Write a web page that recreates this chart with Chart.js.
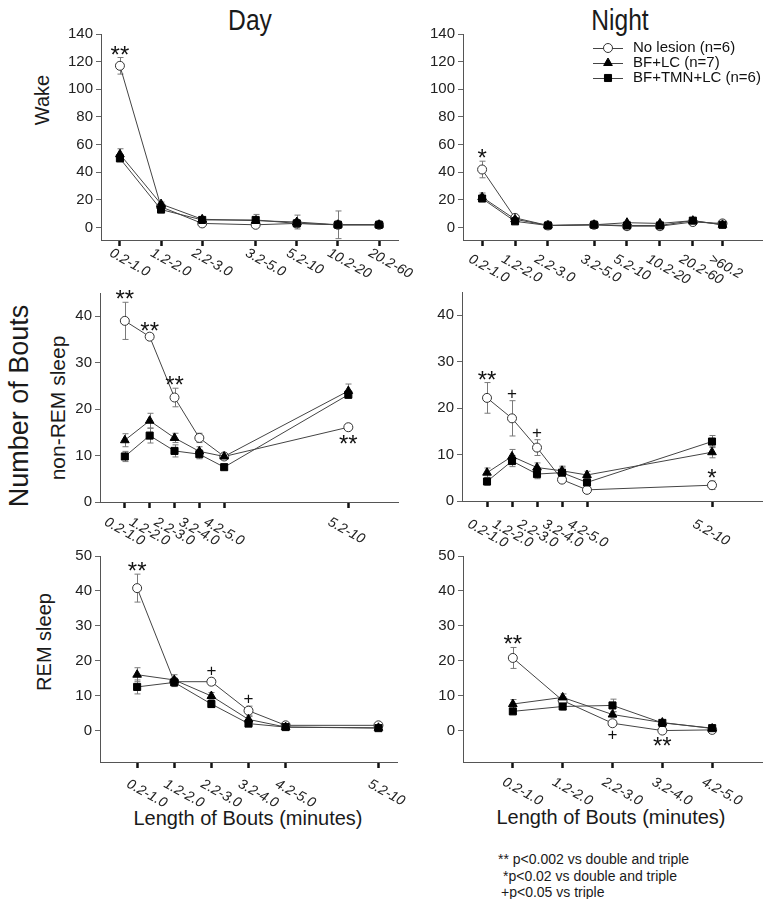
<!DOCTYPE html>
<html>
<head>
<meta charset="utf-8">
<script src="https://cdn.jsdelivr.net/npm/chart.js@4.4.0/dist/chart.umd.min.js"></script>
<style>
  body { margin: 0; background: #fff; width: 763px; height: 899px; position: relative; overflow: hidden;
         font-family: Arial, "Liberation Sans", sans-serif; color: #1a1a1a; }
  .panel { position: absolute; }
  .txt { position: absolute; white-space: nowrap; line-height: 1; }
  .vert { transform: translate(-50%, -50%) rotate(-90deg); }
  .title { transform: translateX(-50%) scaleX(0.82); font-size: 30px; }
  .xtitle { transform: translate(-50%, -50%); font-size: 20px; }
  .note { font-size: 14px; }
</style>
</head>
<body>

<div class="txt title" style="left:250px; top:5px;">Day</div>
<div class="txt title" style="left:620px; top:5px;">Night</div>

<div class="txt vert" style="left:42px; top:100px; font-size:20px;">Wake</div>
<div class="txt vert" style="left:19px; top:406px; font-size:27px;">Number of Bouts</div>
<div class="txt vert" style="left:57px; top:408px; font-size:21px;">non-REM sleep</div>
<div class="txt vert" style="left:44px; top:642px; font-size:20px;">REM sleep</div>

<div class="txt xtitle" style="left:248px; top:818px;">Length of Bouts (minutes)</div>
<div class="txt xtitle" style="left:611px; top:817px;">Length of Bouts (minutes)</div>

<div class="txt note" style="left:498px; top:852px;">** p&lt;0.002 vs double and triple</div>
<div class="txt note" style="left:503px; top:869px;">*p&lt;0.02 vs double and triple</div>
<div class="txt note" style="left:501px; top:885px;">+p&lt;0.05 vs triple</div>

<script>
// group names
const seriesNames = ['No lesion (n=6)', 'BF+LC (n=7)', 'BF+TMN+LC (n=6)'];

// ---- Wake, day ----
const wakeDayLabels = ['0.2-1.0', '1.2-2.0', '2.2-3.0', '3.2-5.0', '5.2-10', '10.2-20', '20.2-60'];
const wakeDayPos = [1, 2, 3, 4.3, 5.3, 6.3, 7.3];
const wakeDayNoLesion = [117, 15, 3, 2, 3, 2, 2];
const wakeDayNoLesionErr = [6, 1.5, 0.8, 0.8, 1, 1, 0.5];
const wakeDayBfLc = [53, 17, 6, 5, 4, 2, 2];
const wakeDayBfLcErr = [4, 1.5, 1, 2, 5, 10, 1];
const wakeDayTriple = [50, 13, 5.5, 5.5, 3, 2, 2];
const wakeDayTripleErr = [2, 1.5, 2, 4, 2, 2, 1];
const wakeDayMarks = [[0, 0, '**', 'up']];

// ---- Wake, night ----
const wakeNightLabels = ['0.2-1.0', '1.2-2.0', '2.2-3.0', '3.2-5.0', '5.2-10', '10.2-20', '20.2-60', '>60.2'];
const wakeNightPos = [1, 2, 3, 4.4, 5.4, 6.4, 7.4, 8.3];
const wakeNightNoLesion = [42, 7, 1.5, 2, 1, 1, 4, 3];
const wakeNightNoLesionErr = [6, 1, 0.5, 0.5, 0.5, 0.5, 1, 1];
const wakeNightBfLc = [22, 6, 1.5, 2, 3.5, 3, 5, 2];
const wakeNightBfLcErr = [3, 1, 0.5, 0.5, 1, 1, 1, 0.8];
const wakeNightTriple = [21, 4.5, 1.5, 2, 1.5, 1.5, 5, 2];
const wakeNightTripleErr = [2, 1, 0.5, 0.5, 0.5, 0.5, 1, 0.8];
const wakeNightMarks = [[0, 0, '*', 'up']];

// ---- non-REM, day ----
const nremLabels = ['0.2-1.0', '1.2-2.0', '2.2-3.0', '3.2-4.0', '4.2-5.0', '5.2-10'];
const nremPos = [1, 2, 3, 4, 5, 10];
const nremDayNoLesion = [39, 35.6, 22.5, 13.8, 9.8, 16.1];
const nremDayNoLesionErr = [4, 0.6, 2, 1, 0.5, 0.7];
const nremDayBfLc = [13.3, 17.5, 13.8, 10.9, 9.8, 23.9];
const nremDayBfLcErr = [1.4, 1.6, 1, 1, 0.6, 1.5];
const nremDayTriple = [9.8, 14.3, 11, 10.3, 7.5, 23.1];
const nremDayTripleErr = [1.1, 1.6, 1.3, 1, 0.5, 0.8];
const nremDayMarks = [[0, 0, '**', 'up'], [0, 1, '**', 'up'], [0, 2, '**', 'up'], [0, 5, '**', 'down']];

// ---- non-REM, night ----
const nremNightNoLesion = [22.2, 17.8, 11.5, 4.6, 2.4, 3.4];
const nremNightNoLesionErr = [3.3, 3.8, 1.7, 0.6, 0.3, 0.9];
const nremNightBfLc = [6.1, 9.6, 7.2, 6.5, 5.6, 10.5];
const nremNightBfLcErr = [1, 1.5, 1, 1, 0.8, 1.2];
const nremNightTriple = [4.2, 8.6, 5.8, 6.1, 4, 12.8];
const nremNightTripleErr = [0.8, 1.2, 1, 1.2, 1, 1.3];
const nremNightMarks = [[0, 0, '**', 'up'], [0, 1, '+', 'up'], [0, 2, '+', 'up'], [0, 5, '*', 'up']];

// ---- REM, day ----
const remDayLabels = ['0.2-1.0', '1.2-2.0', '2.2-3.0', '3.2-4.0', '4.2-5.0', '5.2-10'];
const remDayPos = [1, 2, 3, 4, 5, 7.5];
const remDayNoLesion = [40.8, 14, 14, 5.7, 1.5, 1.5];
const remDayNoLesionErr = [4, 1, 1, 1.3, 0.5, 0.4];
const remDayBfLc = [16, 14.5, 9.9, 3.2, 1, 0.8];
const remDayBfLcErr = [2, 1.5, 1, 0.8, 0.3, 0.3];
const remDayTriple = [12.5, 13.8, 7.6, 2, 1, 0.7];
const remDayTripleErr = [2, 1.2, 1, 0.5, 0.3, 0.3];
const remDayMarks = [[0, 0, '**', 'up'], [0, 2, '+', 'up'], [0, 3, '+', 'up']];

// ---- REM, night ----
const remNightLabels = ['0.2-1.0', '1.2-2.0', '2.2-3.0', '3.2-4.0', '4.2-5.0'];
const remNightPos = [1, 2, 3, 4, 5];
const remNightNoLesion = [20.8, 8.6, 2.1, 0, 0.2];
const remNightNoLesionErr = [3, 1, 0.5, 0.3, 0.3];
const remNightBfLc = [7.6, 9.5, 4.6, 2.3, 0.6];
const remNightBfLcErr = [1.3, 1, 0.8, 0.4, 0.3];
const remNightTriple = [5.5, 6.9, 7.2, 2.2, 0.7];
const remNightTripleErr = [0.6, 1, 1.8, 0.4, 0.3];
const remNightMarks = [[0, 0, '**', 'up'], [0, 2, '+', 'down'], [0, 3, '**', 'down']];

// y axis ticks
const wakeTicks = [0, 20, 40, 60, 80, 100, 120, 140];
const nremTicks = [0, 10, 20, 30, 40];
const remTicks = [0, 10, 20, 30, 40, 50];

const FONT = 'Arial, "Liberation Sans", sans-serif';

// error bars drawn under the markers
const errorBars = {
  id: 'errorBars',
  beforeDatasetsDraw(chart) {
    const { ctx, scales: { x, y } } = chart;
    ctx.save();
    ctx.strokeStyle = '#7a7a7a';
    ctx.lineWidth = 1;
    chart.data.datasets.forEach(ds => {
      ds.data.forEach((pt, i) => {
        const e = ds.errors[i];
        if (!e) return;
        const px = Math.round(x.getPixelForValue(pt.x)) + 0.5;
        const y1 = y.getPixelForValue(pt.y + e);
        const y2 = y.getPixelForValue(pt.y - e);
        ctx.beginPath();
        ctx.moveTo(px, y1); ctx.lineTo(px, y2);
        ctx.moveTo(px - 3, y1); ctx.lineTo(px + 3, y1);
        ctx.moveTo(px - 3, y2); ctx.lineTo(px + 3, y2);
        ctx.stroke();
      });
    });
    ctx.restore();
  }
};

// slanted category labels under the x axis
const slantLabels = {
  id: 'slantLabels',
  afterDraw(chart, args, opts) {
    const { ctx, scales: { x } } = chart;
    ctx.save();
    ctx.font = 'italic 14px ' + FONT;
    ctx.fillStyle = '#222';
    ctx.textBaseline = 'top';
    opts.labels.forEach((lab, i) => {
      const px = x.getPixelForValue(opts.pos[i]);
      ctx.save();
      ctx.translate(px + opts.dx, x.top + opts.dy);
      ctx.rotate(29 * Math.PI / 180);
      ctx.fillText(lab, 0, 0);
      ctx.restore();
    });
    ctx.restore();
  }
};

// significance symbols over / under the no-lesion points
const sigMarks = {
  id: 'sigMarks',
  afterDatasetsDraw(chart, args, opts) {
    const { ctx, scales: { x, y } } = chart;
    ctx.save();
    ctx.fillStyle = '#111';
    ctx.textAlign = 'center';
    ctx.textBaseline = 'alphabetic';
    opts.marks.forEach(([s, i, txt, side]) => {
      const ds = chart.data.datasets[s];
      const pt = ds.data[i];
      const e = ds.errors[i] || 0;
      ctx.font = (txt === '+' ? '17px ' : '24px ') + FONT;
      const m = ctx.measureText(txt);
      const px = x.getPixelForValue(pt.x);
      let py;
      if (side === 'up') {
        py = y.getPixelForValue(pt.y + e) - 3 - m.actualBoundingBoxDescent;
      } else {
        py = y.getPixelForValue(pt.y - e) + 5 + m.actualBoundingBoxAscent;
      }
      ctx.fillText(txt, px, py);
    });
    ctx.restore();
  }
};

// legend in the night wake panel
const boxLegend = {
  id: 'boxLegend',
  afterDraw(chart, args, opts) {
    if (!opts.show) return;
    const { ctx, chartArea } = chart;
    chart.data.datasets.forEach((ds, k) => {
      const x0 = chartArea.left + 130;
      const yy = chartArea.top + 14 + k * 15;
      ctx.save();
      ctx.strokeStyle = '#444';
      ctx.lineWidth = 1;
      ctx.beginPath();
      ctx.moveTo(x0, yy + 0.5);
      ctx.lineTo(x0 + 30, yy + 0.5);
      ctx.stroke();
      ctx.fillStyle = ds.pointBackgroundColor;
      ctx.strokeStyle = ds.pointBorderColor;
      ctx.lineWidth = 1;
      Chart.helpers.drawPoint(ctx, {
        pointStyle: ds.pointStyle, radius: ds.pointRadius, borderWidth: 1, rotation: 0
      }, x0 + 15, yy);
      ctx.font = '15px ' + FONT;
      ctx.textBaseline = 'middle';
      ctx.fillStyle = '#111';
      ctx.fillText(ds.label, x0 + 40, yy);
      ctx.restore();
    });
  }
};

function makeDatasets(pos, series, errs) {
  const styles = [
    { pointStyle: 'circle', pointRadius: 4.5, pointBackgroundColor: '#fff', pointBorderColor: '#333', order: 3 },
    { pointStyle: 'triangle', pointRadius: 5, pointBackgroundColor: '#000', pointBorderColor: '#000', order: 2 },
    { pointStyle: 'rect', pointRadius: 5, pointBackgroundColor: '#000', pointBorderColor: '#000', order: 1 }
  ];
  return series.map((vals, k) => Object.assign({
    label: seriesNames[k],
    data: vals.map((v, i) => ({ x: pos[i], y: v })),
    errors: errs[k],
    borderColor: '#444',
    borderWidth: 1,
    pointBorderWidth: 1,
    pointHoverRadius: 5,
    tension: 0
  }, styles[k]));
}

function makePanel(p) {
  const W_Y = 70, PAD_T = 14, PAD_R = 40, H_X = 50;
  const div = document.createElement('div');
  div.className = 'panel';
  const w = (p.area.right - p.area.left) + W_Y + PAD_R;
  const h = (p.area.bottom - p.area.top) + PAD_T + H_X;
  div.style.left = (p.area.left - W_Y) + 'px';
  div.style.top = (p.area.top - PAD_T) + 'px';
  div.style.width = w + 'px';
  div.style.height = h + 'px';
  const canvas = document.createElement('canvas');
  canvas.width = w;
  canvas.height = h;
  div.appendChild(canvas);
  document.body.appendChild(div);

  new Chart(canvas, {
    type: 'line',
    data: { datasets: makeDatasets(p.pos, p.series, p.errs) },
    options: {
      responsive: false,
      animation: false,
      devicePixelRatio: 1,
      layout: { padding: { left: 0, top: PAD_T, right: PAD_R, bottom: 0 } },
      scales: {
        x: {
          type: 'linear',
          min: p.xMin,
          max: p.xMax,
          afterBuildTicks: s => { s.ticks = p.pos.map(v => ({ value: v })); },
          afterFit: s => { s.height = H_X; },
          ticks: { display: false, autoSkip: false },
          grid: { drawOnChartArea: false, tickLength: 6, tickWidth: 2.5, tickColor: '#111' },
          border: { color: '#555', width: 1 }
        },
        y: {
          min: p.yMin,
          max: p.yMax,
          afterBuildTicks: s => { s.ticks = p.yTicks.map(v => ({ value: v })); },
          afterFit: s => { s.width = W_Y; },
          ticks: { color: '#222', font: { size: 15, family: FONT }, padding: 3 },
          grid: { drawOnChartArea: false, tickLength: 5, tickWidth: 1, tickColor: '#666' },
          border: { color: '#555', width: 1 }
        }
      },
      plugins: {
        legend: { display: false },
        tooltip: { enabled: false },
        slantLabels: { labels: p.labels, pos: p.pos, dx: p.ldx, dy: p.ldy },
        sigMarks: { marks: p.marks },
        boxLegend: { show: !!p.legend }
      }
    },
    plugins: [errorBars, slantLabels, sigMarks, boxLegend]
  });
}

makePanel({
  area: { left: 101, top: 34, right: 398, bottom: 240 },
  xMin: 0.54, xMax: 7.76, yMin: -9, yMax: 140, yTicks: wakeTicks,
  pos: wakeDayPos, labels: wakeDayLabels, ldx: -6, ldy: 6,
  series: [wakeDayNoLesion, wakeDayBfLc, wakeDayTriple],
  errs: [wakeDayNoLesionErr, wakeDayBfLcErr, wakeDayTripleErr],
  marks: wakeDayMarks
});
makePanel({
  area: { left: 463, top: 34, right: 762, bottom: 240 },
  xMin: 0.42, xMax: 9.5, yMin: -9, yMax: 140, yTicks: wakeTicks,
  pos: wakeNightPos, labels: wakeNightLabels, ldx: -9, ldy: 12,
  series: [wakeNightNoLesion, wakeNightBfLc, wakeNightTriple],
  errs: [wakeNightNoLesionErr, wakeNightBfLcErr, wakeNightTripleErr],
  marks: wakeNightMarks, legend: true
});
makePanel({
  area: { left: 100, top: 293, right: 398, bottom: 502 },
  xMin: 0, xMax: 12, yMin: 0, yMax: 45, yTicks: nremTicks,
  pos: nremPos, labels: nremLabels, ldx: -16, ldy: 13,
  series: [nremDayNoLesion, nremDayBfLc, nremDayTriple],
  errs: [nremDayNoLesionErr, nremDayBfLcErr, nremDayTripleErr],
  marks: nremDayMarks
});
makePanel({
  area: { left: 462, top: 292, right: 762, bottom: 501 },
  xMin: 0, xMax: 12, yMin: 0, yMax: 45, yTicks: nremTicks,
  pos: nremPos, labels: nremLabels, ldx: -15, ldy: 16,
  series: [nremNightNoLesion, nremNightBfLc, nremNightTriple],
  errs: [nremNightNoLesionErr, nremNightBfLcErr, nremNightTripleErr],
  marks: nremNightMarks
});
makePanel({
  area: { left: 100, top: 556, right: 397, bottom: 762 },
  xMin: 0, xMax: 8, yMin: -9, yMax: 50, yTicks: remTicks,
  pos: remDayPos, labels: remDayLabels, ldx: -6, ldy: 15,
  series: [remDayNoLesion, remDayBfLc, remDayTriple],
  errs: [remDayNoLesionErr, remDayBfLcErr, remDayTripleErr],
  marks: remDayMarks
});
makePanel({
  area: { left: 463, top: 556, right: 762, bottom: 762 },
  xMin: 0, xMax: 6, yMin: -9, yMax: 50, yTicks: remTicks,
  pos: remNightPos, labels: remNightLabels, ldx: -6, ldy: 13,
  series: [remNightNoLesion, remNightBfLc, remNightTriple],
  errs: [remNightNoLesionErr, remNightBfLcErr, remNightTripleErr],
  marks: remNightMarks
});
</script>
</body>
</html>
